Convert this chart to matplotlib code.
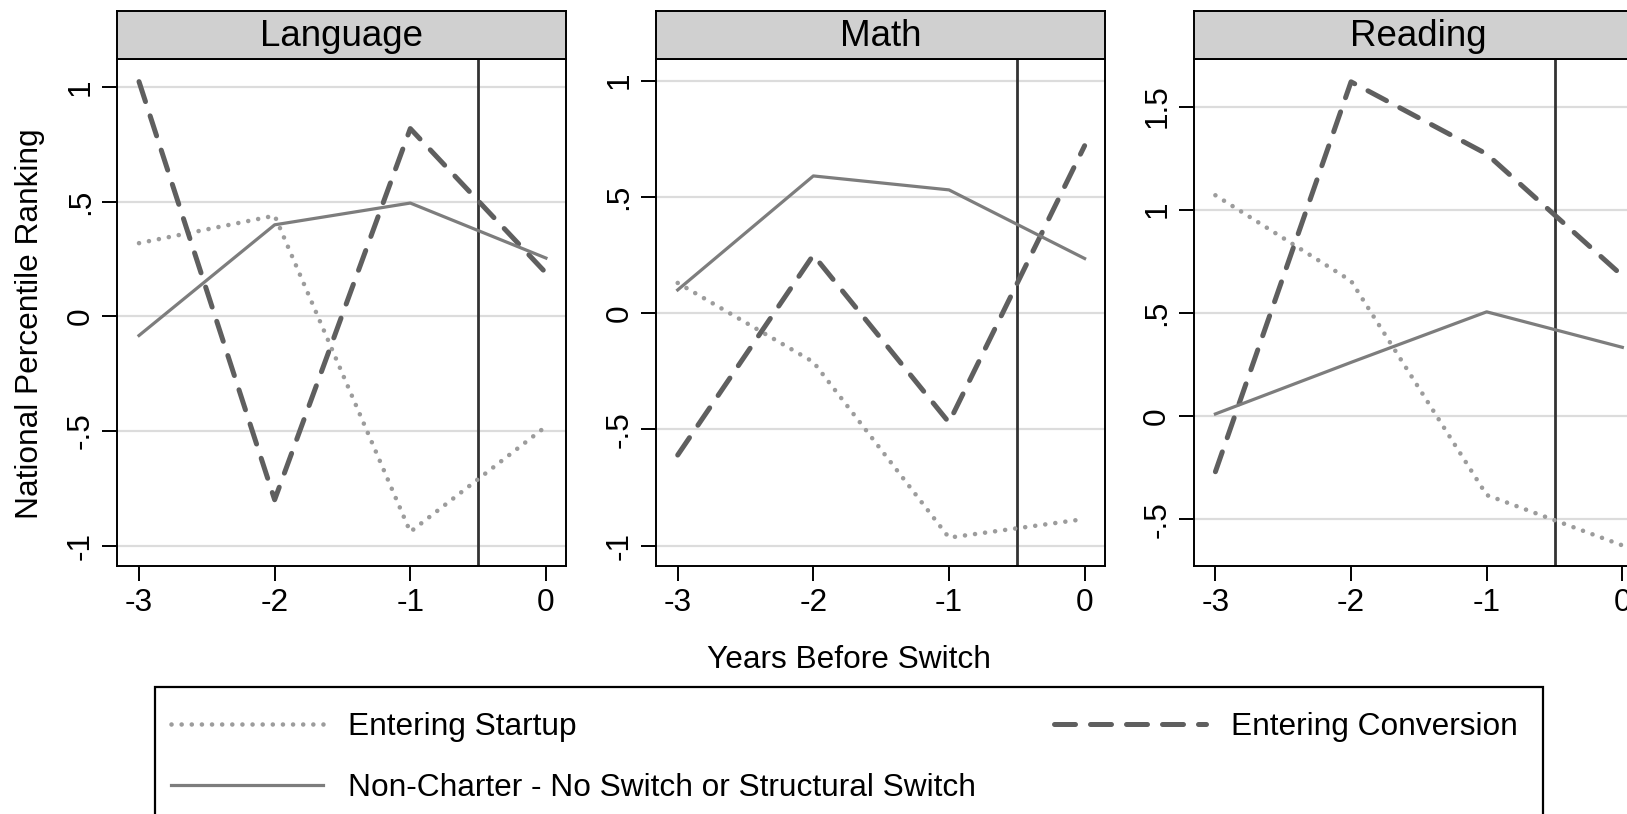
import matplotlib
matplotlib.use("Agg")
import matplotlib.pyplot as plt
from matplotlib.patches import Rectangle

plt.rcParams["font.family"] = ["Liberation Sans", "DejaVu Sans"]

# data
years = [-3, -2, -1, 0]
subjects = ["Language", "Math", "Reading"]

startup_lang = [0.32, 0.44, -0.94, -0.48]
startup_math = [0.13, -0.21, -0.965, -0.885]
startup_read = [1.07, 0.655, -0.383, -0.627]

conv_lang = [1.025, -0.80, 0.82, 0.19]
conv_math = [-0.61, 0.25, -0.47, 0.72]
conv_read = [-0.27, 1.62, 1.27, 0.68]

nonch_lang = [-0.083, 0.40, 0.495, 0.255]
nonch_math = [0.10, 0.59, 0.53, 0.235]
nonch_read = [0.01, 0.26, 0.505, 0.333]

yticks_lang = [-1, -0.5, 0, 0.5, 1]
ylabels_lang = ["-1", "-.5", "0", ".5", "1"]
yticks_read = [-0.5, 0, 0.5, 1, 1.5]
ylabels_read = ["-.5", "0", ".5", "1", "1.5"]
xlabels = ["-3", "-2", "-1", "0"]

switch_x = -0.5

# layout in pixels
W, H = 1627, 814
FS = 22.8


def box(x0, y0, x1, y1):
    return [x0 / W, 1 - y1 / H, (x1 - x0) / W, (y1 - y0) / H]


fig = plt.figure(figsize=(W / 100, H / 100), dpi=100)

lefts = [117.3, 656, 1193.7]
pw = 448.7
ylims = [(-1.089, 1.125), (-1.087, 1.094), (-0.727, 1.732)]
startups = [startup_lang, startup_math, startup_read]
convs = [conv_lang, conv_math, conv_read]
nonchs = [nonch_lang, nonch_math, nonch_read]
yticks = [yticks_lang, yticks_lang, yticks_read]
ylabels = [ylabels_lang, ylabels_lang, ylabels_read]

handles = None
for i, name in enumerate(subjects):
    ax = fig.add_axes(box(lefts[i], 58.7, lefts[i] + pw, 566))
    ax.set_axisbelow(True)
    ax.grid(axis="y", color="#dcdcdc", lw=1.6)
    h1, = ax.plot(years, startups[i], color="#9c9c9c", lw=3.3,
                  linestyle=(0, (0.01, 2.2)), dash_capstyle="round", zorder=3)
    h2, = ax.plot(years, convs[i], color="#5f5f5f", lw=3.6,
                  linestyle=(0, (4.2, 3.0)), dash_capstyle="round", zorder=3)
    h3, = ax.plot(years, nonchs[i], color="#7d7d7d", lw=2.3, zorder=3)
    ax.axvline(switch_x, color="#333333", lw=2.0, zorder=2.5)
    if handles is None:
        handles = [h1, h3, h2]

    ax.set_xlim(-3.16, 0.148)
    ax.set_ylim(*ylims[i])
    ax.set_xticks(years)
    ax.set_xticklabels(xlabels)
    ax.set_yticks(yticks[i])
    ax.set_yticklabels(ylabels[i], rotation=90, va="center")
    ax.tick_params(direction="out", length=10.5, width=1.4, labelsize=FS, pad=5)
    for s in ax.spines.values():
        s.set_linewidth(1.4)
        s.set_color("black")

    strip = fig.add_axes(box(lefts[i], 10.7, lefts[i] + pw, 58.7))
    strip.set_facecolor("#d0d0d0")
    strip.set_xticks([])
    strip.set_yticks([])
    for s in strip.spines.values():
        s.set_linewidth(1.4)
        s.set_color("black")
    strip.text(0.5, 0.265, name, transform=strip.transAxes,
               ha="center", va="baseline", fontsize=26.5)

fig.text(38 / W, 1 - 324 / H, "National Percentile Ranking", rotation=90,
         rotation_mode="anchor", ha="center", va="baseline", fontsize=FS)
fig.text(849 / W, 1 - 668 / H, "Years Before Switch",
         ha="center", va="baseline", fontsize=FS)

labels = ["Entering Startup", "Non-Charter - No Switch or Structural Switch",
          "Entering Conversion"]
fig.legend(handles, labels, ncol=2, mode="expand", loc="upper left",
           bbox_to_anchor=(155 / W, 1 - 806 / H, (1534 - 155) / W, 110 / H),
           borderaxespad=0, borderpad=0.5, handlelength=4.81,
           handletextpad=0.79, labelspacing=0.98, frameon=False,
           fontsize=FS, columnspacing=1.0)
fig.add_artist(Rectangle((155 / W, 1 - 840 / H), (1543 - 155) / W, (840 - 687) / H,
                         transform=fig.transFigure, fill=False,
                         edgecolor="black", lw=1.6))

fig.savefig("out.png", dpi=100)
